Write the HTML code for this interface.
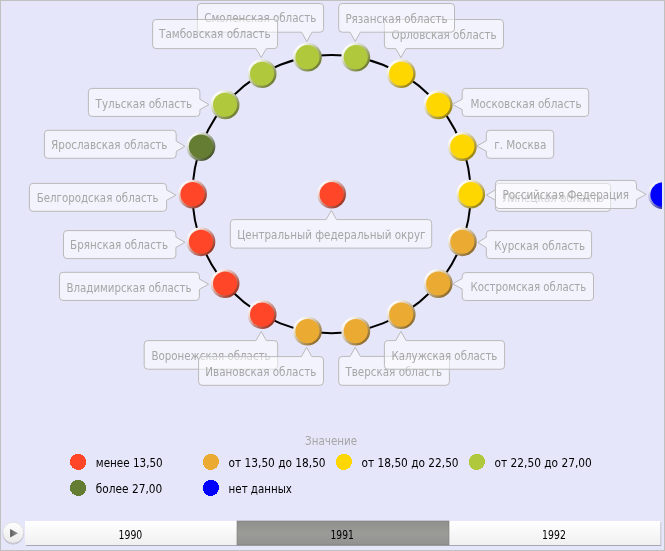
<!DOCTYPE html>
<html lang="ru"><head><meta charset="utf-8"><title>Значение</title>
<style>
html,body{margin:0;padding:0;background:#E6E6FA;}
body{width:665px;height:551px;overflow:hidden;position:relative;font-family:"DejaVu Sans Condensed", "Liberation Sans", sans-serif;}
svg{position:absolute;left:0;top:0;display:block}
text{font-family:"DejaVu Sans Condensed", "Liberation Sans", sans-serif;}
.lab path{fill:#fff;fill-opacity:0.5;stroke:#bababa;stroke-width:1}
.lab text,.ttl{font-size:12px;fill:#a6a6a6}
.leg text{font-size:12px;fill:#000}
.yrs text{font-size:11.5px;fill:#000}
</style></head><body>
<svg width="665" height="551" viewBox="0 0 665 551" role="img" aria-label="Значение">
<defs>
<linearGradient id="gy" x1="0.17" y1="0.17" x2="0.88" y2="0.88"><stop offset="0" stop-color="#fffdf5"/><stop offset="1" stop-color="#947d00"/></linearGradient>
<linearGradient id="glg" x1="0.17" y1="0.17" x2="0.88" y2="0.88"><stop offset="0" stop-color="#fcfdf7"/><stop offset="1" stop-color="#667423"/></linearGradient>
<linearGradient id="gdg" x1="0.17" y1="0.17" x2="0.88" y2="0.88"><stop offset="0" stop-color="#f9faf7"/><stop offset="1" stop-color="#3a491d"/></linearGradient>
<linearGradient id="gr" x1="0.17" y1="0.17" x2="0.88" y2="0.88"><stop offset="0" stop-color="#fff8f6"/><stop offset="1" stop-color="#942917"/></linearGradient>
<linearGradient id="go" x1="0.17" y1="0.17" x2="0.88" y2="0.88"><stop offset="0" stop-color="#fefcf7"/><stop offset="1" stop-color="#88631d"/></linearGradient>
<linearGradient id="gb" x1="0.17" y1="0.17" x2="0.88" y2="0.88"><stop offset="0" stop-color="#f5f5ff"/><stop offset="1" stop-color="#000094"/></linearGradient>

<linearGradient id="tl" x1="0" y1="0" x2="0" y2="1"><stop offset="0" stop-color="#ffffff"/><stop offset="1" stop-color="#f0f0f0"/></linearGradient>
<linearGradient id="tls" x1="0" y1="0" x2="0" y2="1"><stop offset="0" stop-color="#8e8e8b"/><stop offset="0.5" stop-color="#9b9b98"/><stop offset="1" stop-color="#929290"/></linearGradient>
<linearGradient id="pb" x1="0" y1="0" x2="0" y2="1"><stop offset="0" stop-color="#ffffff"/><stop offset="1" stop-color="#e9e9e9"/></linearGradient>
<linearGradient id="pt" x1="0" y1="0" x2="1" y2="0"><stop offset="0" stop-color="#5a5a5a"/><stop offset="1" stop-color="#9a9a9a"/></linearGradient>
<filter id="sh" x="-5%" y="-20%" width="110%" height="150%"><feGaussianBlur in="SourceAlpha" stdDeviation="0.6"/><feOffset dx="0.6" dy="0.9"/><feComponentTransfer><feFuncA type="linear" slope="0.28"/></feComponentTransfer><feMerge><feMergeNode/><feMergeNode in="SourceGraphic"/></feMerge></filter>
<filter id="shb" x="-20%" y="-20%" width="140%" height="150%"><feGaussianBlur in="SourceAlpha" stdDeviation="0.5"/><feOffset dx="0.2" dy="0.5"/><feComponentTransfer><feFuncA type="linear" slope="0.3"/></feComponentTransfer><feMerge><feMergeNode/><feMergeNode in="SourceGraphic"/></feMerge></filter>
<clipPath id="cl"><rect x="1" y="1" width="661" height="549"/></clipPath>
</defs>
<rect x="0" y="0" width="665" height="551" fill="#E6E6FA"/>
<rect x="0.5" y="0.5" width="664" height="550" fill="none" stroke="#c0c0c0" stroke-width="1"/>
<g clip-path="url(#cl)">
<circle cx="331.6" cy="194.1" r="139.1" fill="none" stroke="#000" stroke-width="2.0"/>
<g id="nodes">
<g><circle cx="470.7" cy="194.1" r="14.45" fill="url(#gy)"/><circle cx="470.7" cy="194.15" r="12.05" fill="#FFD700"/></g>
<g><circle cx="462.31" cy="146.52" r="14.45" fill="url(#gy)"/><circle cx="462.31" cy="146.57" r="12.05" fill="#FFD700"/></g>
<g><circle cx="438.16" cy="104.69" r="14.45" fill="url(#gy)"/><circle cx="438.16" cy="104.74" r="12.05" fill="#FFD700"/></g>
<g><circle cx="401.15" cy="73.64" r="14.45" fill="url(#gy)"/><circle cx="401.15" cy="73.69" r="12.05" fill="#FFD700"/></g>
<g><circle cx="355.75" cy="57.11" r="14.45" fill="url(#glg)"/><circle cx="355.75" cy="57.16" r="12.05" fill="#B0C83C"/></g>
<g><circle cx="307.45" cy="57.11" r="14.45" fill="url(#glg)"/><circle cx="307.45" cy="57.16" r="12.05" fill="#B0C83C"/></g>
<g><circle cx="262.05" cy="73.64" r="14.45" fill="url(#glg)"/><circle cx="262.05" cy="73.69" r="12.05" fill="#B0C83C"/></g>
<g><circle cx="225.04" cy="104.69" r="14.45" fill="url(#glg)"/><circle cx="225.04" cy="104.74" r="12.05" fill="#B0C83C"/></g>
<g><circle cx="200.89" cy="146.52" r="14.45" fill="url(#gdg)"/><circle cx="200.89" cy="146.57" r="12.05" fill="#647D32"/></g>
<g><circle cx="192.5" cy="194.1" r="14.45" fill="url(#gr)"/><circle cx="192.5" cy="194.15" r="12.05" fill="#FF4628"/></g>
<g><circle cx="200.89" cy="241.68" r="14.45" fill="url(#gr)"/><circle cx="200.89" cy="241.73" r="12.05" fill="#FF4628"/></g>
<g><circle cx="225.04" cy="283.51" r="14.45" fill="url(#gr)"/><circle cx="225.04" cy="283.56" r="12.05" fill="#FF4628"/></g>
<g><circle cx="262.05" cy="314.56" r="14.45" fill="url(#gr)"/><circle cx="262.05" cy="314.61" r="12.05" fill="#FF4628"/></g>
<g><circle cx="307.45" cy="331.09" r="14.45" fill="url(#go)"/><circle cx="307.45" cy="331.14" r="12.05" fill="#EBAA32"/></g>
<g><circle cx="355.75" cy="331.09" r="14.45" fill="url(#go)"/><circle cx="355.75" cy="331.14" r="12.05" fill="#EBAA32"/></g>
<g><circle cx="401.15" cy="314.56" r="14.45" fill="url(#go)"/><circle cx="401.15" cy="314.61" r="12.05" fill="#EBAA32"/></g>
<g><circle cx="438.16" cy="283.51" r="14.45" fill="url(#go)"/><circle cx="438.16" cy="283.56" r="12.05" fill="#EBAA32"/></g>
<g><circle cx="462.31" cy="241.68" r="14.45" fill="url(#go)"/><circle cx="462.31" cy="241.73" r="12.05" fill="#EBAA32"/></g>
<g><circle cx="331.6" cy="194.1" r="14.45" fill="url(#gr)"/><circle cx="331.6" cy="194.15" r="12.05" fill="#FF4628"/></g>
<g><circle cx="662.4" cy="194.6" r="14.45" fill="url(#gb)"/><circle cx="662.4" cy="194.65" r="12.05" fill="#0000FF"/></g>
</g>
<g id="labels">
<g class="lab"><path d="M498.9,183.4 L607.1,183.4 Q610.6,183.4 610.6,186.9 L610.6,207.8 Q610.6,211.3 607.1,211.3 L498.9,211.3 Q495.4,211.3 495.4,207.8 L495.4,200.3 L486.5,195.1 L495.4,189.9 L495.4,186.9 Q495.4,183.4 498.9,183.4 Z"/><text x="502.6" y="202.1" textLength="101.2" lengthAdjust="spacingAndGlyphs">Липецкая область</text></g>
<g class="lab"><path d="M489.8,130.3 L550.2,130.3 Q553.7,130.3 553.7,133.8 L553.7,154.8 Q553.7,158.3 550.2,158.3 L489.8,158.3 Q486.3,158.3 486.3,154.8 L486.3,151.2 L476.8,146 L486.3,140.8 L486.3,133.8 Q486.3,130.3 489.8,130.3 Z"/><text x="494.2" y="149.4" textLength="52.1" lengthAdjust="spacingAndGlyphs">г. Москва</text></g>
<g class="lab"><path d="M465.7,88.4 L585.2,88.4 Q588.7,88.4 588.7,91.9 L588.7,112.9 Q588.7,116.4 585.2,116.4 L465.7,116.4 Q462.2,116.4 462.2,112.9 L462.2,109.6 L452.4,104.4 L462.2,99.2 L462.2,91.9 Q462.2,88.4 465.7,88.4 Z"/><text x="470.6" y="107.5" textLength="110.9" lengthAdjust="spacingAndGlyphs">Московская область</text></g>
<g class="lab"><path d="M387.9,19.5 L500,19.5 Q503.5,19.5 503.5,23 L503.5,45.1 Q503.5,48.6 500,48.6 L406.1,48.6 L400.9,57.6 L395.7,48.6 L387.9,48.6 Q384.4,48.6 384.4,45.1 L384.4,23 Q384.4,19.5 387.9,19.5 Z"/><text x="391.5" y="39" textLength="105.1" lengthAdjust="spacingAndGlyphs">Орловская область</text></g>
<g class="lab"><path d="M342.2,3.5 L451,3.5 Q454.5,3.5 454.5,7 L454.5,28.7 Q454.5,32.2 451,32.2 L360.4,32.2 L355.2,41.4 L350,32.2 L342.2,32.2 Q338.7,32.2 338.7,28.7 L338.7,7 Q338.7,3.5 342.2,3.5 Z"/><text x="345.4" y="22.5" textLength="102.2" lengthAdjust="spacingAndGlyphs">Рязанская область</text></g>
<g class="lab"><path d="M200.9,3.5 L320.1,3.5 Q323.6,3.5 323.6,7 L323.6,28.7 Q323.6,32.2 320.1,32.2 L312,32.2 L306.8,41.6 L301.6,32.2 L200.9,32.2 Q197.4,32.2 197.4,28.7 L197.4,7 Q197.4,3.5 200.9,3.5 Z"/><text x="204.3" y="22.4" textLength="112" lengthAdjust="spacingAndGlyphs">Смоленская область</text></g>
<g class="lab"><path d="M156.1,19.5 L274.1,19.5 Q277.6,19.5 277.6,23 L277.6,45.1 Q277.6,48.6 274.1,48.6 L266.4,48.6 L261.2,57.4 L256,48.6 L156.1,48.6 Q152.6,48.6 152.6,45.1 L152.6,23 Q152.6,19.5 156.1,19.5 Z"/><text x="159" y="38.4" textLength="111.6" lengthAdjust="spacingAndGlyphs">Тамбовская область</text></g>
<g class="lab"><path d="M91.9,88.4 L196.4,88.4 Q199.9,88.4 199.9,91.9 L199.9,99.3 L208.9,104.5 L199.9,109.7 L199.9,112.9 Q199.9,116.4 196.4,116.4 L91.9,116.4 Q88.4,116.4 88.4,112.9 L88.4,91.9 Q88.4,88.4 91.9,88.4 Z"/><text x="95.6" y="107.5" textLength="96.6" lengthAdjust="spacingAndGlyphs">Тульская область</text></g>
<g class="lab"><path d="M47.9,130.3 L172.7,130.3 Q176.2,130.3 176.2,133.8 L176.2,141.1 L184.9,146.3 L176.2,151.5 L176.2,154.8 Q176.2,158.3 172.7,158.3 L47.9,158.3 Q44.4,158.3 44.4,154.8 L44.4,133.8 Q44.4,130.3 47.9,130.3 Z"/><text x="51.1" y="149.4" textLength="116.4" lengthAdjust="spacingAndGlyphs">Ярославская область</text></g>
<g class="lab"><path d="M32.9,183.4 L163.1,183.4 Q166.6,183.4 166.6,186.9 L166.6,189.9 L175.8,195.1 L166.6,200.3 L166.6,207.8 Q166.6,211.3 163.1,211.3 L32.9,211.3 Q29.4,211.3 29.4,207.8 L29.4,186.9 Q29.4,183.4 32.9,183.4 Z"/><text x="36.7" y="202.2" textLength="121.9" lengthAdjust="spacingAndGlyphs">Белгородская область</text></g>
<g class="lab"><path d="M67,230.6 L172.4,230.6 Q175.9,230.6 175.9,234.1 L175.9,237.1 L185,242.3 L175.9,247.5 L175.9,255.1 Q175.9,258.6 172.4,258.6 L67,258.6 Q63.5,258.6 63.5,255.1 L63.5,234.1 Q63.5,230.6 67,230.6 Z"/><text x="70.1" y="249.2" textLength="97.9" lengthAdjust="spacingAndGlyphs">Брянская область</text></g>
<g class="lab"><path d="M63,272.3 L195.9,272.3 Q199.4,272.3 199.4,275.8 L199.4,279 L208.6,284.2 L199.4,289.4 L199.4,296.9 Q199.4,300.4 195.9,300.4 L63,300.4 Q59.5,300.4 59.5,296.9 L59.5,275.8 Q59.5,272.3 63,272.3 Z"/><text x="66.5" y="291.5" textLength="125" lengthAdjust="spacingAndGlyphs">Владимирская область</text></g>
<g class="lab"><path d="M147.7,340.6 L256,340.6 L261.2,331.5 L266.4,340.6 L274.2,340.6 Q277.7,340.6 277.7,344.1 L277.7,365.7 Q277.7,369.2 274.2,369.2 L147.7,369.2 Q144.2,369.2 144.2,365.7 L144.2,344.1 Q144.2,340.6 147.7,340.6 Z"/><text x="151.4" y="360.1" textLength="119.2" lengthAdjust="spacingAndGlyphs">Воронежская область</text></g>
<g class="lab"><path d="M202.1,356.6 L301.4,356.6 L306.6,347.4 L311.8,356.6 L320,356.6 Q323.5,356.6 323.5,360.1 L323.5,381.8 Q323.5,385.3 320,385.3 L202.1,385.3 Q198.6,385.3 198.6,381.8 L198.6,360.1 Q198.6,356.6 202.1,356.6 Z"/><text x="205.3" y="376" textLength="111" lengthAdjust="spacingAndGlyphs">Ивановская область</text></g>
<g class="lab"><path d="M342.2,356.4 L350,356.4 L355.2,347.4 L360.4,356.4 L445.9,356.4 Q449.4,356.4 449.4,359.9 L449.4,381.8 Q449.4,385.3 445.9,385.3 L342.2,385.3 Q338.7,385.3 338.7,381.8 L338.7,359.9 Q338.7,356.4 342.2,356.4 Z"/><text x="345.4" y="376.1" textLength="96.8" lengthAdjust="spacingAndGlyphs">Тверская область</text></g>
<g class="lab"><path d="M387.9,340.6 L395.7,340.6 L400.9,331.4 L406.1,340.6 L501.1,340.6 Q504.6,340.6 504.6,344.1 L504.6,365.7 Q504.6,369.2 501.1,369.2 L387.9,369.2 Q384.4,369.2 384.4,365.7 L384.4,344.1 Q384.4,340.6 387.9,340.6 Z"/><text x="391.5" y="360.2" textLength="105.9" lengthAdjust="spacingAndGlyphs">Калужская область</text></g>
<g class="lab"><path d="M465.7,272.6 L590,272.6 Q593.5,272.6 593.5,276.1 L593.5,297 Q593.5,300.5 590,300.5 L465.7,300.5 Q462.2,300.5 462.2,297 L462.2,289 L452.6,283.8 L462.2,278.6 L462.2,276.1 Q462.2,272.6 465.7,272.6 Z"/><text x="470.4" y="291.3" textLength="115.9" lengthAdjust="spacingAndGlyphs">Костромская область</text></g>
<g class="lab"><path d="M489.8,230.6 L588.1,230.6 Q591.6,230.6 591.6,234.1 L591.6,255.1 Q591.6,258.6 588.1,258.6 L489.8,258.6 Q486.3,258.6 486.3,255.1 L486.3,247.6 L477.9,242.4 L486.3,237.2 L486.3,234.1 Q486.3,230.6 489.8,230.6 Z"/><text x="494.3" y="249.7" textLength="90.9" lengthAdjust="spacingAndGlyphs">Курская область</text></g>
<g class="lab"><path d="M233.8,219.6 L326.1,219.6 L331.3,210.4 L336.5,219.6 L428.2,219.6 Q431.7,219.6 431.7,223.1 L431.7,244.6 Q431.7,248.1 428.2,248.1 L233.8,248.1 Q230.3,248.1 230.3,244.6 L230.3,223.1 Q230.3,219.6 233.8,219.6 Z"/><text x="237.2" y="238.7" textLength="188.3" lengthAdjust="spacingAndGlyphs">Центральный федеральный округ</text></g>
<g class="lab"><path d="M498.9,180.4 L633,180.4 Q636.5,180.4 636.5,183.9 L636.5,189.1 L646.2,194.3 L636.5,199.5 L636.5,205 Q636.5,208.5 633,208.5 L498.9,208.5 Q495.4,208.5 495.4,205 L495.4,183.9 Q495.4,180.4 498.9,180.4 Z"/><text x="502.6" y="198.9" textLength="126.3" lengthAdjust="spacingAndGlyphs">Российская Федерация</text></g>
</g>
</g>
<g class="leg" id="legend">
<text class="ttl" style="fill:#a6a6a6" x="305.1" y="445.2" textLength="52" lengthAdjust="spacingAndGlyphs">Значение</text>
<circle cx="78.1" cy="461.9" r="8.1" fill="#FF4628" shape-rendering="crispEdges"/><text x="95.8" y="466.5" textLength="66.9" lengthAdjust="spacingAndGlyphs">менее 13,50</text>
<circle cx="210.9" cy="461.9" r="8.1" fill="#EBAA32" shape-rendering="crispEdges"/><text x="228.6" y="466.5" textLength="97.0" lengthAdjust="spacingAndGlyphs">от 13,50 до 18,50</text>
<circle cx="343.9" cy="461.9" r="8.1" fill="#FFD700" shape-rendering="crispEdges"/><text x="361.6" y="466.5" textLength="97.0" lengthAdjust="spacingAndGlyphs">от 18,50 до 22,50</text>
<circle cx="476.9" cy="461.9" r="8.1" fill="#B0C83C" shape-rendering="crispEdges"/><text x="494.6" y="466.5" textLength="97.2" lengthAdjust="spacingAndGlyphs">от 22,50 до 27,00</text>
<circle cx="78.1" cy="487.9" r="8.1" fill="#647D32" shape-rendering="crispEdges"/><text x="95.8" y="492.5" textLength="66.4" lengthAdjust="spacingAndGlyphs">более 27,00</text>
<circle cx="210.9" cy="487.9" r="8.1" fill="#0000FF" shape-rendering="crispEdges"/><text x="228.6" y="492.5" textLength="63.3" lengthAdjust="spacingAndGlyphs">нет данных</text>
</g>
<g class="yrs" id="timeline">
<g filter="url(#sh)"><rect x="25" y="521" width="635.2" height="24" fill="url(#tl)"/></g>
<rect x="237" y="521" width="212" height="24" fill="url(#tls)" stroke="#7c7c7a" stroke-width="0.6"/>
<text x="118.5" y="538.8" textLength="23.8" lengthAdjust="spacingAndGlyphs">1990</text>
<text x="330.5" y="538.8" textLength="23.4" lengthAdjust="spacingAndGlyphs">1991</text>
<text x="542.1" y="538.8" textLength="23.8" lengthAdjust="spacingAndGlyphs">1992</text>
<g filter="url(#shb)"><circle cx="13.2" cy="532.7" r="10.4" fill="url(#pb)" stroke="#d0d0d0" stroke-width="0.5"/></g>
<path d="M10.1,528.9 L18.1,533.25 L10.1,537.6 Z" fill="url(#pt)"/>
</g>
</svg>
</body></html>
